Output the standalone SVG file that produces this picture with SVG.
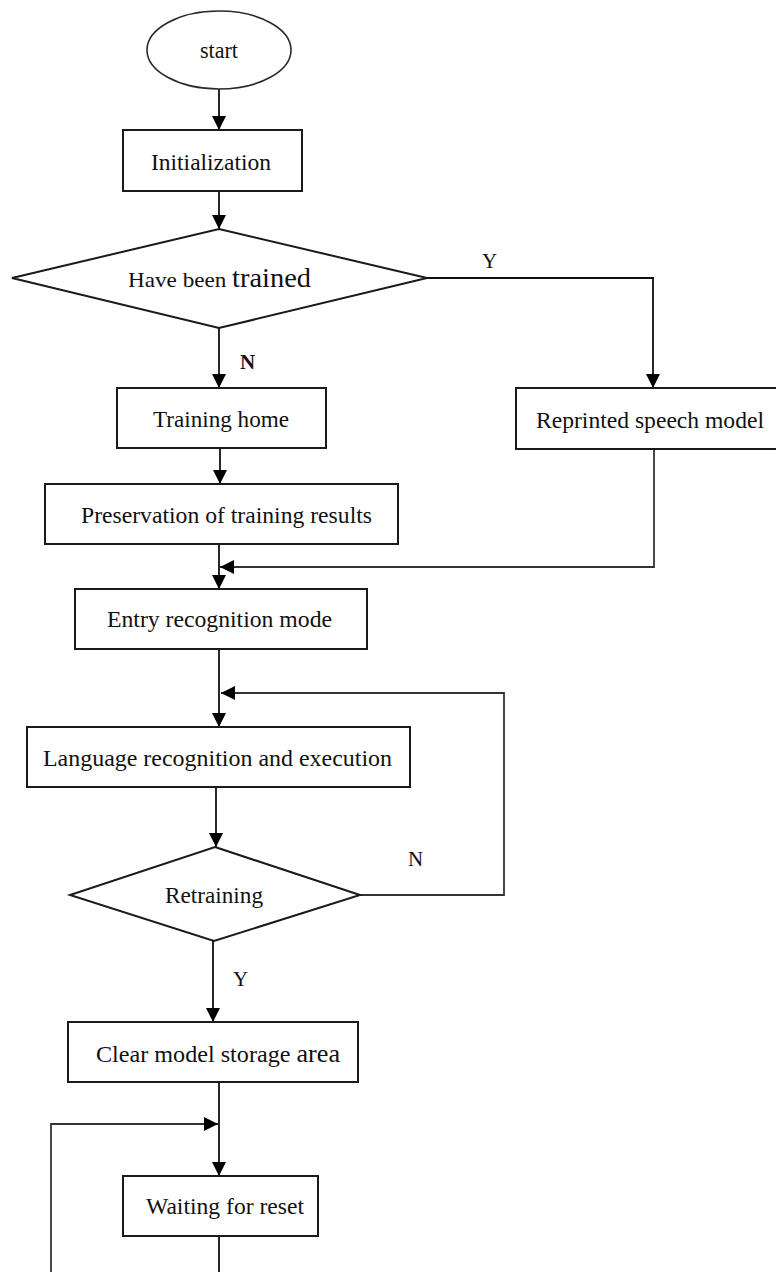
<svg xmlns="http://www.w3.org/2000/svg" width="776" height="1272" viewBox="0 0 776 1272">
  <style>
    .box { fill: #fff; stroke: #1a1a1a; stroke-width: 2; }
    .term { fill: #fff; stroke: #2a2a2a; stroke-width: 1.6; }
    .lbl { font-family: "Liberation Serif", "Times New Roman", serif; font-size: 24px; fill: #111; }
    .tag { font-family: "Liberation Serif", "Times New Roman", serif; font-size: 21px; fill: #111; }
    .wire { fill: none; stroke: #111; stroke-width: 1.8; }
    .back { fill: none; stroke: #333; stroke-width: 1.8; }
  </style>
  <defs>
    <marker id="arrow" markerUnits="userSpaceOnUse" markerWidth="14" markerHeight="14" refX="14" refY="7" orient="auto">
      <path d="M0,0 L14,7 L0,14 Z" fill="#000"/>
    </marker>
  </defs>
  <rect width="776" height="1272" fill="#fff"/>

  <!-- connectors -->
  <g id="connectors">
    <path class="wire" d="M219,89 V130" marker-end="url(#arrow)"/>
    <path class="wire" d="M219,191 V229" marker-end="url(#arrow)"/>
    <path class="wire" d="M427,278 H653 V388" marker-end="url(#arrow)"/>
    <path class="wire" d="M219,328 V388" marker-end="url(#arrow)"/>
    <path class="wire" d="M220,448 V484" marker-end="url(#arrow)"/>
    <path class="wire" d="M219,542 V589" marker-end="url(#arrow)"/>
    <path class="back" d="M654,449 V567 H220" marker-end="url(#arrow)"/>
    <path class="wire" d="M219,649 V727" marker-end="url(#arrow)"/>
    <path class="back" d="M360,895 H504 V693 H221" marker-end="url(#arrow)"/>
    <path class="wire" d="M216,787 V847" marker-end="url(#arrow)"/>
    <path class="wire" d="M213,941 V1022" marker-end="url(#arrow)"/>
    <path class="wire" d="M219,1082 V1176" marker-end="url(#arrow)"/>
    <path class="wire" d="M219,1236 V1272"/>
    <path class="back" d="M51,1272 V1124 H218" marker-end="url(#arrow)"/>
  </g>

  <!-- edge labels -->
  <text class="tag" x="482" y="268">Y</text>
  <text class="tag" x="240" y="369" font-weight="bold" font-size="22">N</text>
  <text class="tag" x="408" y="866">N</text>
  <text class="tag" x="233" y="986">Y</text>

  <g id="start">
    <ellipse class="term" cx="219" cy="50" rx="72" ry="39"/>
    <text class="lbl" x="200" y="58" textLength="38" lengthAdjust="spacingAndGlyphs" font-size="22">start</text>
  </g>

  <g id="init">
    <rect class="box" x="123" y="130" width="179" height="61"/>
    <text class="lbl" x="151" y="170" textLength="120" lengthAdjust="spacingAndGlyphs">Initialization</text>
  </g>

  <g id="trained">
    <polygon class="box" points="219,229 427,278 219,328 12,278"/>
    <text class="lbl" x="128" y="287" textLength="183" lengthAdjust="spacingAndGlyphs"><tspan font-size="22">Have been </tspan><tspan font-size="27">trained</tspan></text>
  </g>

  <g id="reprint">
    <rect class="box" x="516" y="388" width="280" height="61"/>
    <text class="lbl" x="536" y="428" textLength="228" lengthAdjust="spacingAndGlyphs">Reprinted speech model</text>
  </g>

  <g id="training">
    <rect class="box" x="117" y="388" width="209" height="60"/>
    <text class="lbl" x="153" y="427" textLength="136" lengthAdjust="spacingAndGlyphs">Training home</text>
  </g>

  <g id="preserve">
    <rect class="box" x="45" y="484" width="353" height="60"/>
    <text class="lbl" x="81" y="523" textLength="291" lengthAdjust="spacingAndGlyphs">Preservation of training results</text>
  </g>

  <g id="entry">
    <rect class="box" x="75" y="589" width="292" height="60"/>
    <text class="lbl" x="107" y="627" textLength="225" lengthAdjust="spacingAndGlyphs">Entry recognition mode</text>
  </g>

  <g id="language">
    <rect class="box" x="27" y="727" width="383" height="60"/>
    <text class="lbl" x="43" y="766" textLength="349" lengthAdjust="spacingAndGlyphs">Language recognition and execution</text>
  </g>

  <g id="retrain">
    <polygon class="box" points="215,847 360,895 214,941 70,895"/>
    <text class="lbl" x="165" y="903" textLength="98" lengthAdjust="spacingAndGlyphs">Retraining</text>
  </g>

  <g id="clear">
    <rect class="box" x="68" y="1022" width="290" height="60"/>
    <text class="lbl" x="96" y="1062" textLength="244" lengthAdjust="spacingAndGlyphs"><tspan>Clear model storage </tspan><tspan font-size="26">area</tspan></text>
  </g>

  <g id="waiting">
    <rect class="box" x="123" y="1176" width="195" height="60"/>
    <text class="lbl" x="146" y="1214" textLength="158" lengthAdjust="spacingAndGlyphs">Waiting for reset</text>
  </g>
</svg>
